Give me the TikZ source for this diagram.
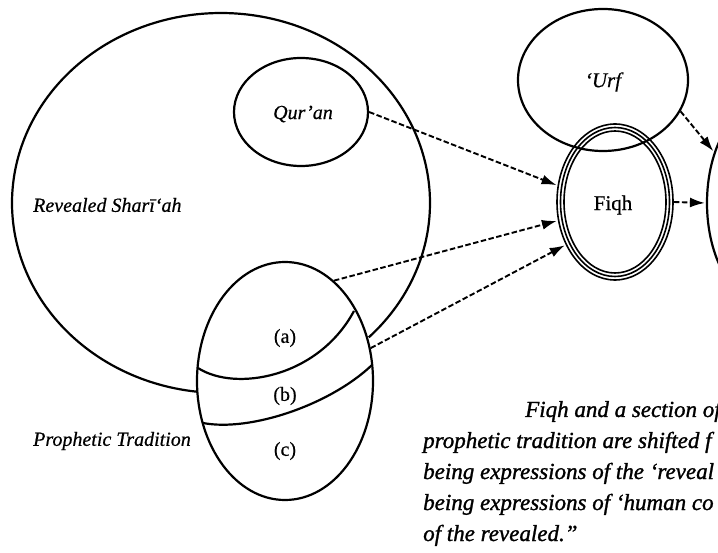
\documentclass[tikz,border=0pt]{standalone}
\usepackage{fontspec}
\setmainfont{Liberation Serif}
\newfontfamily\capfont[FakeBold=1.2]{Liberation Serif}
\newfontfamily\labfont[FakeBold=0.5]{Liberation Serif}
\usetikzlibrary{shapes.geometric,arrows.meta}
\tikzset{
  oval/.style={draw, ellipse, line width=2.2pt, inner sep=0pt},
  lab/.style={font=\labfont\fontsize{20}{24}\selectfont\itshape, inner sep=0pt},
  uplab/.style={font=\labfont\fontsize{20}{24}\selectfont, inner sep=0pt},
  capline/.style={font=\capfont\fontsize{23}{28}\selectfont\itshape, inner sep=0pt, anchor=base west},
  flow/.style={dash pattern=on 5.5pt off 2.5pt, line width=1.9pt,
    -{Latex[length=15pt,width=10pt]}, shorten >=1pt},
  thin/.style={line width=1.6pt}
}
\begin{document}
\begin{tikzpicture}[x=1pt,y=-1pt]
\useasboundingbox (0,0) rectangle (718,553);
\clip (0,0) rectangle (718,553);
\fill[white] (0,0) rectangle (718,553);
% big Revealed Shari'ah ellipse, outside part only
\draw[line width=2.2pt] plot[domain=96.6:405, samples=160, smooth]
  ({221+209*cos(\x)},{203+190*sin(\x)});
% prophetic tradition ellipse
\node[oval, minimum width=176pt, minimum height=238pt] (pro) at (285,381) {};
\draw[line width=2.2pt] (198,368) .. controls (235,392) and (318,378) .. (354,311);
\draw[line width=2.2pt] (203,423) .. controls (250,432) and (330,405) .. (372,365);
% Qur'an
\node[oval, minimum width=134pt, minimum height=108pt] (qur) at (301,112) {};
% 'Urf
\node[oval, minimum width=170pt, minimum height=142pt] (urf) at (603,80) {};
% Fiqh triple ellipse
\node[draw, ellipse, thin, inner sep=0pt, minimum width=116pt, minimum height=156pt] (fiqh) at (615,202) {};
\node[draw, ellipse, thin, inner sep=0pt, minimum width=109pt, minimum height=149pt] (fiqhm) at (615,202) {};
\node[draw, ellipse, thin, inner sep=0pt, minimum width=102pt, minimum height=142pt] (fiqhi) at (615,202) {};
% right (cut) ellipse
\node[oval, minimum width=116pt, minimum height=200pt] (rgt) at (765,203) {};
% labels
\node[lab, anchor=west] (rs) at (33,205) {Revealed Sharī‘ah};
\node[lab] (qt) at (303,114) {Qur’an};
\node[lab, anchor=west] (pt) at (33,441) {Prophetic Tradition};
\node[uplab] (la) at (285,338) {(a)};
\node[uplab] (lb) at (285,396) {(b)};
\node[uplab] (lc) at (285,451) {(c)};
\node[lab, font=\labfont\fontsize{21}{24}\selectfont\itshape] (ut) at (603,82) {‘Urf};
\node[uplab, font=\labfont\fontsize{21}{24}\selectfont] (ft) at (613,205) {Fiqh};
% arrows
\draw[flow] (qur.east) -- (fiqh.164);
\draw[flow] (pro.64) -- (fiqh.198);
\draw[flow] (pro.21) -- (fiqh.221);
\draw[flow] (urf.338) -- (rgt.135);
\draw[flow] (fiqh.east) -- (rgt.west);
% caption
\node[capline] (c1) at (525,417) {Fiqh and a section of};
\node[capline] (c2) at (423,448) {prophetic tradition are shifted f};
\node[capline] (c3) at (423,479) {being expressions of the ‘reveal};
\node[capline] (c4) at (423,510) {being expressions of ‘human co};
\node[capline] (c5) at (423,541) {of the revealed.”};
\end{tikzpicture}
\end{document}
